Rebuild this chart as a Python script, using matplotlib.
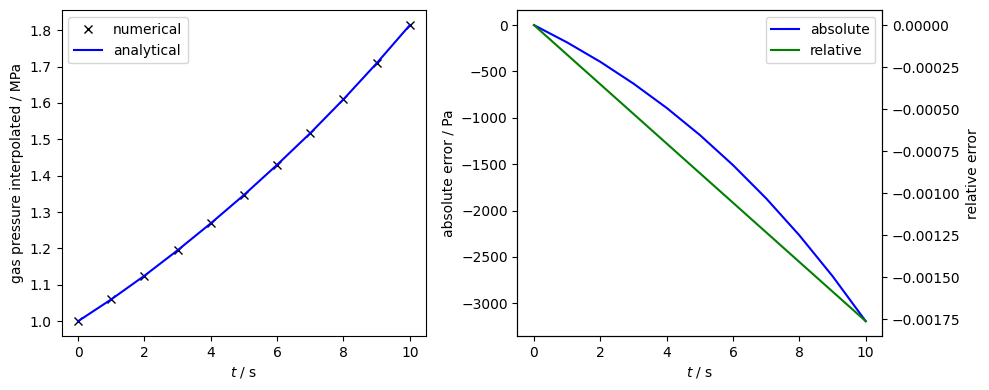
import numpy as np
import matplotlib
matplotlib.use("Agg")
import matplotlib.pyplot as plt

# time steps
t = [0, 1, 2, 3, 4, 5, 6, 7, 8, 9, 10]

# gas pressure in MPa
p_numerical = [1.000, 1.060, 1.125, 1.195, 1.269, 1.347, 1.430, 1.517, 1.610, 1.709, 1.814]
p_analytical = [1.000, 1.060, 1.125, 1.195, 1.269, 1.347, 1.430, 1.517, 1.610, 1.709, 1.814]

# errors
abs_error = [0, -187, -396, -631, -893, -1185, -1510, -1869, -2267, -2707, -3193]
rel_error = [0, -0.000176, -0.000352, -0.000528, -0.000704, -0.00088,
             -0.001056, -0.001232, -0.001408, -0.001584, -0.00176]

fig, (ax1, ax2) = plt.subplots(1, 2, figsize=(9.89, 3.9), dpi=100)

# pressure
ax1.plot(t, p_numerical, "kx", label="numerical")
ax1.plot(t, p_analytical, "b-", label="analytical")
ax1.set_xlabel("$t$ / s")
ax1.set_ylabel("gas pressure interpolated / MPa")
ax1.legend(loc="upper left")

# errors on twin axes
l1, = ax2.plot(t, abs_error, "b-", label="absolute")
ax2.set_xlabel("$t$ / s")
ax2.set_ylabel("absolute error / Pa")
ax3 = ax2.twinx()
l2, = ax3.plot(t, rel_error, "g-", label="relative")
ax3.set_ylabel("relative error")
ax3.legend(handles=[l1, l2], loc="upper right")

fig.subplots_adjust(left=0.0622, right=0.8921, bottom=0.1385, top=0.9736, wspace=0.2493)
fig.savefig("out.png")
